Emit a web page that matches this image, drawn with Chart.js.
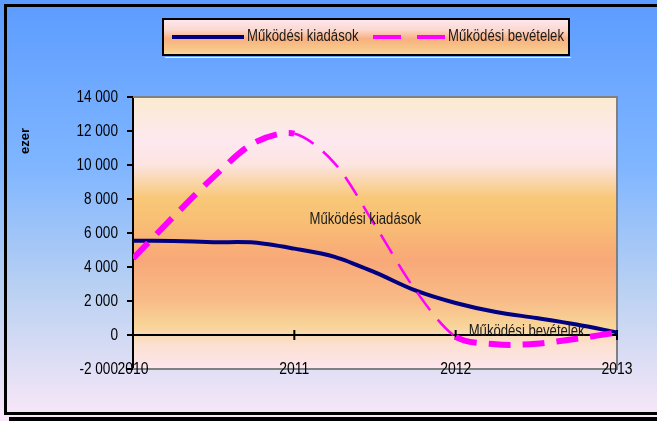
<!DOCTYPE html>
<html>
<head>
<meta charset="utf-8">
<script src="https://cdn.jsdelivr.net/npm/chart.js@4"></script>
<style>
html,body{margin:0;padding:0;background:#fff;}
canvas{display:block;}
</style>
</head>
<body>
<canvas id="c" width="657" height="421"></canvas>
<script>
// ---- data ----
const periods   = [2010, 2010.25, 2010.5, 2010.75, 2011, 2011.25, 2011.5, 2011.75, 2012, 2012.25, 2012.5, 2012.75, 2013];
const kiadasok  = [5550, 5530, 5460, 5440, 5080, 4600, 3680, 2620, 1880, 1350, 1000, 620, 150];
const bevetelek = [4500, 6950, 9300, 11300, 11850, 10100, 6450, 2650, -100, -550, -520, -220, 150];
const seriesNames = ['Működési kiadások', 'Működési bevételek'];
const xTickValues = [2010, 2011, 2012, 2013];
const xTickLabels = ['2010', '2011', '2012', '2013'];
const yTickValues = [-2000, 0, 2000, 4000, 6000, 8000, 10000, 12000, 14000];
const yTickLabels = ['-2 000', '0', '2 000', '4 000', '6 000', '8 000', '10 000', '12 000', '14 000'];
const axisTitle = 'ezer';

const BASEFONT = '"Liberation Sans", Arial, sans-serif';
const NAVY = '#000080';
const MAGENTA = '#ff00ff';

function toPoints(ys){ return periods.map((x,i)=>({x:x, y:ys[i]})); }

// condensed text (Arial Narrow look) drawn with a horizontal squeeze
function narrowText(ctx, text, x, y, align, size, sx, color){
  ctx.save();
  ctx.translate(x, y);
  ctx.scale(sx, 1);
  ctx.font = size + 'px ' + BASEFONT;
  ctx.textAlign = align;
  ctx.textBaseline = 'middle';
  ctx.fillStyle = color;
  ctx.fillText(text, 0, 0);
  ctx.restore();
}

const decor = {
  id: 'decor',
  beforeDraw(chart){
    const {ctx, chartArea:a, width, height} = chart;
    ctx.save();
    let g = ctx.createLinearGradient(0, 0, 0, height);
    g.addColorStop(0, '#5c9cff');
    g.addColorStop(0.4, '#80b6ff');
    g.addColorStop(0.7, '#bcd2f2');
    g.addColorStop(1, '#fbe8f8');
    ctx.fillStyle = g;
    ctx.fillRect(0, 0, width, height);
    g = ctx.createLinearGradient(0, a.top, 0, a.bottom);
    g.addColorStop(0, '#fbebd0');
    g.addColorStop(0.16, '#fde8f0');
    g.addColorStop(0.25, '#fce4e0');
    g.addColorStop(0.37, '#f8c878');
    g.addColorStop(0.45, '#f8c074');
    g.addColorStop(0.6, '#f8a878');
    g.addColorStop(0.75, '#f8bc88');
    g.addColorStop(0.84, '#f8d498');
    g.addColorStop(0.91, '#fce0d0');
    g.addColorStop(1, '#fde6ee');
    ctx.fillStyle = g;
    ctx.fillRect(a.left, a.top, a.right - a.left, a.bottom - a.top);
    ctx.strokeStyle = '#000';
    ctx.lineWidth = 3;
    ctx.strokeRect(5.5, 5.5, width + 20, 408);
    ctx.fillStyle = '#000';
    ctx.fillRect(9, 417, width - 9, 4);
    ctx.translate(25, 141);
    ctx.rotate(-Math.PI/2);
    ctx.fillStyle = '#000';
    ctx.font = 'bold 13px ' + BASEFONT;
    ctx.textAlign = 'center';
    ctx.textBaseline = 'middle';
    ctx.fillText(axisTitle, 0, 0);
    ctx.restore();
  },
  beforeDatasetsDraw(chart){
    const {ctx, chartArea:a, scales} = chart;
    ctx.save();
    ctx.strokeStyle = '#808080';
    ctx.lineWidth = 2;
    ctx.beginPath();
    ctx.moveTo(a.left, a.top);
    ctx.lineTo(a.right, a.top);
    ctx.lineTo(a.right, a.bottom);
    ctx.lineTo(a.left, a.bottom);
    ctx.stroke();
    const y0 = scales.y.getPixelForValue(0);
    ctx.strokeStyle = '#000';
    ctx.beginPath();
    ctx.moveTo(a.left, y0);
    ctx.lineTo(a.right, y0);
    xTickValues.forEach(v => {
      const px = scales.x.getPixelForValue(v);
      ctx.moveTo(px, y0 - 5);
      ctx.lineTo(px, y0 + 5);
    });
    ctx.stroke();
    ctx.restore();
  },
  afterDatasetsDraw(chart, args, opts){
    const {ctx, scales, chartArea:a} = chart;
    opts.anchors.forEach((p, i) => {
      narrowText(ctx, chart.data.datasets[i].label, scales.x.getPixelForValue(p[0]), scales.y.getPixelForValue(p[1]), 'center', 16, 0.82, '#1a1a1a');
    });
    // tick labels, placed by the scales
    yTickValues.forEach((v, i) => {
      narrowText(ctx, yTickLabels[i], opts.yLabelRight, scales.y.getPixelForValue(v), 'right', 17, 0.8, '#000');
    });
    xTickValues.forEach((v, i) => {
      narrowText(ctx, xTickLabels[i], scales.x.getPixelForValue(v), a.bottom, 'center', 17, 0.82, '#000');
    });
  },
  afterDraw(chart, args, opts){
    const {ctx} = chart;
    const L = opts.legend;
    ctx.save();
    let g = ctx.createLinearGradient(0, L.top, 0, L.bottom);
    g.addColorStop(0, '#fde8f0');
    g.addColorStop(0.3, '#fcd8d0');
    g.addColorStop(0.55, '#f8b080');
    g.addColorStop(0.8, '#f8c488');
    g.addColorStop(1, '#f8d8a0');
    ctx.fillStyle = g;
    ctx.fillRect(L.left, L.top, L.right - L.left, L.bottom - L.top);
    ctx.strokeStyle = '#000';
    ctx.lineWidth = 2;
    ctx.strokeRect(L.left, L.top, L.right - L.left, L.bottom - L.top);
    ctx.strokeStyle = 'rgba(255,255,255,0.8)';
    ctx.lineWidth = 1;
    ctx.beginPath();
    ctx.moveTo(L.left + 2, L.bottom + 2.5);
    ctx.lineTo(L.right + 2, L.bottom + 2.5);
    ctx.stroke();
    const cy = (L.top + L.bottom) / 2;
    chart.data.datasets.forEach((ds, i) => {
      const x0 = L.items[i];
      ctx.strokeStyle = ds.borderColor;
      ctx.lineWidth = 4;
      ctx.setLineDash(i === 1 ? [28, 16] : []);
      ctx.beginPath();
      ctx.moveTo(x0, cy);
      ctx.lineTo(x0 + 72, cy);
      ctx.stroke();
      ctx.setLineDash([]);
      narrowText(ctx, ds.label, x0 + 75, cy, 'left', 16, 0.82, '#1a1a1a');
    });
    ctx.restore();
  }
};

new Chart(document.getElementById('c'), {
  type: 'line',
  data: {
    datasets: [
      {
        label: seriesNames[0],
        data: toPoints(kiadasok),
        borderColor: NAVY,
        borderWidth: 4,
        pointRadius: 0,
        tension: 0.3,
        fill: false,
        order: 1
      },
      {
        label: seriesNames[1],
        data: toPoints(bevetelek),
        borderColor: MAGENTA,
        borderWidth: 6,
        borderDash: [22, 12],
        pointRadius: 0,
        tension: 0.3,
        fill: false,
        order: 0,
        segment: {
          borderWidth: ctx => (ctx.p0.parsed.y - ctx.p1.parsed.y > 1500 ? 2.5 : 6)
        }
      }
    ]
  },
  options: {
    responsive: false,
    animation: false,
    devicePixelRatio: 1,
    layout: { padding: { top: 97, right: 40, bottom: 0, left: 0 } },
    plugins: {
      legend: { display: false },
      tooltip: { enabled: false },
      decor: {
        anchors: [[2011.44, 6760], [2012.44, 180]],
        yLabelRight: 118,
        legend: { left: 163, top: 19, right: 569, bottom: 55, items: [172, 373] }
      }
    },
    scales: {
      x: {
        type: 'linear',
        min: 2010,
        max: 2013,
        afterFit: s => { s.height = 52; },
        afterBuildTicks: s => { s.ticks = xTickValues.map(v => ({value: v})); },
        grid: { display: false, drawTicks: false },
        border: { display: false },
        ticks: { display: false }
      },
      y: {
        min: -2000,
        max: 14000,
        afterFit: s => { s.width = 133; },
        afterBuildTicks: s => { s.ticks = yTickValues.map(v => ({value: v})); },
        grid: { display: true, drawOnChartArea: false, drawTicks: true, tickLength: 6, color: '#000', lineWidth: 2 },
        border: { display: true, color: '#000', width: 2 },
        ticks: { display: false }
      }
    }
  },
  plugins: [decor]
});
</script>
</body>
</html>
